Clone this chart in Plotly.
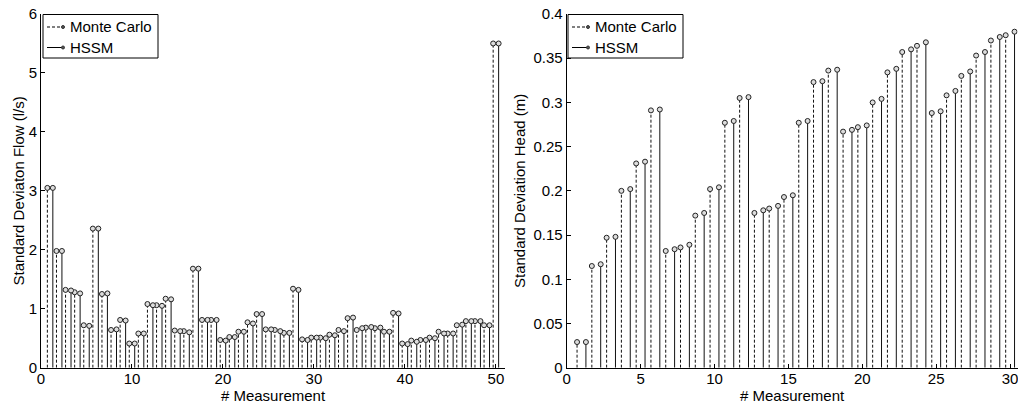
import plotly.graph_objects as go

# ---------------- data ----------------
flow_measurement = list(range(1, 51))
flow_mc = [3.05, 1.98, 1.32, 1.28, 0.72, 2.36, 1.25, 0.64, 0.81, 0.41,
           0.58, 1.08, 1.06, 1.17, 0.63, 0.62, 1.68, 0.81, 0.81, 0.47,
           0.52, 0.61, 0.77, 0.91, 0.65, 0.64, 0.59, 1.34, 0.48, 0.51,
           0.51, 0.56, 0.64, 0.84, 0.64, 0.68, 0.67, 0.61, 0.93, 0.41,
           0.46, 0.47, 0.51, 0.61, 0.58, 0.72, 0.79, 0.79, 0.72, 5.50]
flow_hssm = [3.05, 1.98, 1.31, 1.26, 0.71, 2.36, 1.26, 0.65, 0.80, 0.41,
             0.58, 1.06, 1.05, 1.16, 0.62, 0.60, 1.68, 0.81, 0.81, 0.46,
             0.52, 0.61, 0.75, 0.91, 0.65, 0.62, 0.59, 1.32, 0.47, 0.51,
             0.50, 0.55, 0.62, 0.85, 0.67, 0.69, 0.68, 0.61, 0.92, 0.40,
             0.44, 0.47, 0.50, 0.58, 0.58, 0.73, 0.79, 0.79, 0.72, 5.50]

head_measurement = list(range(1, 31))
head_mc = [0.029, 0.115, 0.147, 0.200, 0.231, 0.291, 0.132, 0.136, 0.172, 0.202,
           0.277, 0.305, 0.175, 0.180, 0.193, 0.277, 0.323, 0.336, 0.267, 0.272,
           0.300, 0.334, 0.357, 0.364, 0.288, 0.308, 0.330, 0.353, 0.370, 0.376]
head_hssm = [0.029, 0.117, 0.148, 0.202, 0.233, 0.292, 0.134, 0.139, 0.175, 0.204,
             0.279, 0.306, 0.178, 0.183, 0.195, 0.279, 0.324, 0.337, 0.269, 0.274,
             0.304, 0.338, 0.360, 0.368, 0.290, 0.313, 0.335, 0.357, 0.374, 0.380]

series_names = ["Monte Carlo", "HSSM"]
offsets = [-0.3, 0.3]
dashes = ["3px,2px", "solid"]

flow_xticks = [0, 10, 20, 30, 40, 50]
flow_yticks = [0, 1, 2, 3, 4, 5, 6]
head_xticks = [0, 5, 10, 15, 20, 25, 30]
head_yticks = [0, 0.05, 0.1, 0.15, 0.2, 0.25, 0.3, 0.35, 0.4]
head_yticklabels = ["0", "0.05", "0.1", "0.15", "0.2", "0.25", "0.3", "0.35", "0.4"]

FONT = "Liberation Sans, Arial, sans-serif"
W, H = 1018, 405


def px_x(x):
    return x / W


def px_y(y):
    return 1 - y / H


fig = go.Figure()


def add_stems(meas, values, name, off, dash, xa, ya):
    xs, ys = [], []
    mx = []
    for m, v in zip(meas, values):
        x = m + off
        xs += [x, x, None]
        ys += [0, v, None]
        mx.append(x)
    fig.add_trace(go.Scatter(x=xs, y=ys, mode="lines", xaxis=xa, yaxis=ya,
                             line=dict(color="#111111", width=1, dash=dash),
                             showlegend=False, hoverinfo="skip", name=name))
    fig.add_trace(go.Scatter(x=mx, y=values, mode="markers", xaxis=xa, yaxis=ya,
                             marker=dict(symbol="circle", size=5, color="#dddddd",
                                         line=dict(color="#222222", width=1)),
                             showlegend=False, name=name))


for vals, nm, off, ds in zip([flow_mc, flow_hssm], series_names, offsets, dashes):
    add_stems(flow_measurement, vals, nm, off, ds, "x", "y")
for vals, nm, off, ds in zip([head_mc, head_hssm], series_names, offsets, dashes):
    add_stems(head_measurement, vals, nm, off, ds, "x2", "y2")

# ---------------- legend boxes (drawn in page pixels) ----------------
shapes, annotations = [], []
for left in (43, 568):
    top, bottom, right = 14.5, 58, left + 115
    shapes.append(dict(type="rect", xref="paper", yref="paper",
                       x0=px_x(left), x1=px_x(right), y0=px_y(bottom), y1=px_y(top),
                       line=dict(color="black", width=1), fillcolor="white", layer="above"))
    for row_y, nm, ds in zip([27, 47.5], series_names, dashes):
        shapes.append(dict(type="line", xref="paper", yref="paper",
                           x0=px_x(left + 4), x1=px_x(left + 20), y0=px_y(row_y), y1=px_y(row_y),
                           line=dict(color="black", width=1, dash=ds), layer="above"))
        shapes.append(dict(type="circle", xref="paper", yref="paper",
                           x0=px_x(left + 18.5), x1=px_x(left + 21.5),
                           y0=px_y(row_y + 1.5), y1=px_y(row_y - 1.5),
                           line=dict(color="#333333", width=1), fillcolor="#555555", layer="above"))
        annotations.append(dict(xref="paper", yref="paper", x=px_x(left + 25), y=px_y(row_y),
                                xanchor="left", yanchor="middle", showarrow=False, text=nm,
                                font=dict(family=FONT, size=15, color="black")))

y_dom = [px_y(367.7), px_y(14)]
axis_common = dict(showline=True, linecolor="black", linewidth=1, mirror=False,
                   ticks="inside", ticklen=4, tickcolor="black", showgrid=False,
                   zeroline=False, tickfont=dict(family=FONT, size=15, color="black"),
                   automargin=False, ticklabeloverflow="allow")

fig.update_layout(
    width=W, height=H,
    margin=dict(l=0, r=0, t=0, b=0),
    paper_bgcolor="white", plot_bgcolor="white",
    font=dict(family=FONT, size=15, color="black"),
    showlegend=False,
    shapes=shapes, annotations=annotations,
    xaxis=dict(domain=[px_x(41), px_x(505)], range=[0, 51], tickvals=flow_xticks,
               ticklabelstandoff=-3,
               title=dict(text="# Measurement", font=dict(size=15), standoff=0),
               **axis_common),
    yaxis=dict(domain=y_dom, range=[0, 6], tickvals=flow_yticks,
               title=dict(text="Standard Deviaton Flow (l/s)", font=dict(size=15), standoff=0),
               **axis_common),
    xaxis2=dict(domain=[px_x(566.7), px_x(1017.5)], range=[0, 30.5], tickvals=head_xticks,
                anchor="y2", ticklabelstandoff=-3,
                title=dict(text="# Measurement", font=dict(size=15), standoff=0),
                **axis_common),
    yaxis2=dict(domain=y_dom, range=[0, 0.4], tickvals=head_yticks,
                ticktext=head_yticklabels, anchor="x2",
                title=dict(text="Standard Deviation Head (m)", font=dict(size=15), standoff=4),
                **axis_common),
)

# remove the default page margin so the figure fills the 1018x405 window exactly
fig.write_html("out.html", config={"displayModeBar": False},
               post_script="document.body.style.margin='0';document.body.style.overflow='hidden';")
